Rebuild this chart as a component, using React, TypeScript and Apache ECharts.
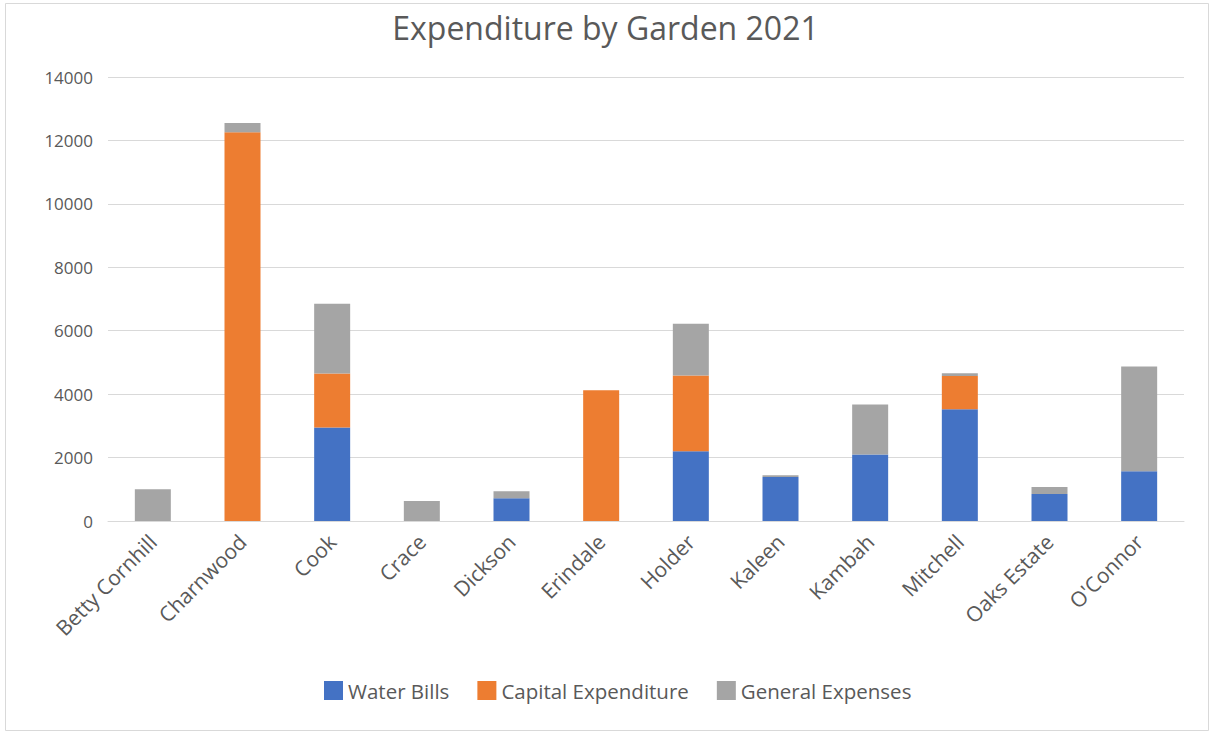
import React, { useEffect, useRef } from "react";
import * as echarts from "echarts";

const categories = ["Betty Cornhill", "Charnwood", "Cook", "Crace", "Dickson", "Erindale", "Holder", "Kaleen", "Kambah", "Mitchell", "Oaks Estate", "O'Connor"];
const waterBills = [0, 0, 2950, 0, 720, 0, 2200, 1385, 2100, 3520, 850, 1570];
const capitalExpenditure = [0, 12260, 1700, 0, 0, 4120, 2390, 0, 0, 1050, 0, 0];
const generalExpenses = [1005, 290, 2200, 630, 220, 0, 1630, 60, 1570, 85, 220, 3300];
const seriesNames = ["Water Bills", "Capital Expenditure", "General Expenses"];
const colors = ["#4472C4", "#ED7D31", "#A5A5A5"];

const FONT = "'Open Sans', 'Noto Sans', sans-serif";

export default function App() {
  const ref = useRef<HTMLDivElement>(null);
  useEffect(() => {
    const chart = echarts.init(ref.current!, null, { renderer: "svg" });
    const data = [waterBills, capitalExpenditure, generalExpenses];
    chart.setOption({
      animation: false,
      backgroundColor: "#ffffff",
      title: {
        text: "Expenditure by Garden 2021",
        left: "center",
        top: 6,
        textStyle: { fontFamily: FONT, fontSize: 32, fontWeight: "normal", color: "#595959" },
      },
      graphic: [
        {
          type: "rect",
          shape: { x: 5.5, y: 3.5, width: 1203, height: 727 },
          style: { fill: "none", stroke: "#D9D9D9", lineWidth: 1 },
          silent: true,
        },
      ],
      legend: {
        top: 675,
        left: 319,
        itemWidth: 19,
        itemHeight: 19,
        itemGap: 28,
        icon: "rect",
        textStyle: { fontFamily: FONT, fontSize: 20.5, color: "#595959" },
        data: seriesNames,
      },
      grid: { left: 108, right: 27, top: 77, bottom: 211, containLabel: false },
      xAxis: {
        type: "category",
        data: categories,
        axisLine: { show: true, lineStyle: { color: "#D9D9D9" } },
        axisTick: { show: false },
        axisLabel: {
          rotate: 45,
          interval: 0,
          margin: 17,
          fontFamily: FONT,
          fontSize: 21,
          color: "#595959",
        },
      },
      yAxis: {
        type: "value",
        min: 0,
        max: 14000,
        interval: 2000,
        axisLine: { show: false },
        axisTick: { show: false },
        splitLine: { lineStyle: { color: "#D9D9D9", width: 1 } },
        axisLabel: {
          fontFamily: FONT,
          fontSize: 17,
          color: "#595959",
          margin: 15,
          formatter: (v: number) => String(v),
        },
      },
      series: seriesNames.map((name, i) => ({
        name,
        type: "bar",
        stack: "total",
        barWidth: 36,
        itemStyle: { color: colors[i] },
        data: data[i],
      })),
    });
    return () => chart.dispose();
  }, []);
  return <div ref={ref} style={{ position: "absolute", left: 0, top: 0, width: 1211, height: 732 }} />;
}
